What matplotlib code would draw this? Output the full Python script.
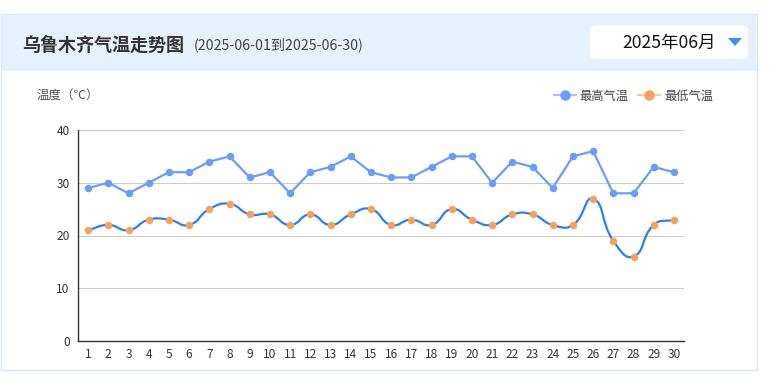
import numpy as np
import matplotlib
matplotlib.use("Agg")
import matplotlib.pyplot as plt
from matplotlib.patches import Rectangle, FancyBboxPatch, Polygon, PathPatch
from matplotlib.path import Path
from matplotlib.lines import Line2D

plt.rcParams['font.family'] = ['Noto Sans CJK SC', 'DejaVu Sans']

days = list(range(1, 31))
high_temps = [29, 30, 28, 30, 32, 32, 34, 35, 31, 32, 28, 32, 33, 35, 32,
              31, 31, 33, 35, 35, 30, 34, 33, 29, 35, 36, 28, 28, 33, 32]
low_temps = [21, 22, 21, 23, 23, 22, 25, 26, 24, 24, 22, 24, 22, 24, 25,
             22, 23, 22, 25, 23, 22, 24, 24, 22, 22, 27, 19, 16, 22, 23]
y_ticks = [0, 10, 20, 30, 40]
title = "乌鲁木齐气温走势图"
subtitle = "(2025-06-01到2025-06-30)"
month_label = "2025年06月"
y_label = "温度（℃）"
series_names = ["最高气温", "最低气温"]

W, H = 772, 384
fig = plt.figure(figsize=(W / 100, H / 100), dpi=100)
fig.patch.set_facecolor("white")

def fx(px):
    return px / W

def fy(py):
    return 1 - py / H

# card border
fig.add_artist(Rectangle((fx(1), fy(370)), fx(756), (370 - 14) / H,
                         transform=fig.transFigure, facecolor="white",
                         edgecolor="#dbe7f7", lw=1, zorder=0))
# header band
fig.add_artist(Rectangle((fx(1.5), fy(71)), fx(755), (71 - 14.5) / H,
                         transform=fig.transFigure, facecolor="#e7f0fd",
                         edgecolor="none", zorder=1))
# dropdown
fig.add_artist(FancyBboxPatch((fx(590), fy(59)), fx(158), (59 - 25) / H,
                              boxstyle="round,pad=0,rounding_size=0.012",
                              transform=fig.transFigure, facecolor="white",
                              edgecolor="none", zorder=2))
fig.text(fx(22), fy(45), title, fontsize=13, fontweight="bold", color="#333333",
         va="center", ha="left", zorder=3)
fig.text(fx(194), fy(45), subtitle, fontsize=10.2, color="#444444",
         va="center", ha="left", zorder=3)
fig.text(fx(716), fy(43), month_label, fontsize=12.6, color="#111111",
         va="center", ha="right", zorder=3)
fig.add_artist(Polygon([(fx(728), fy(38)), (fx(742), fy(38)), (fx(735), fy(46))],
                       closed=True, transform=fig.transFigure,
                       facecolor="#3d8ef2", edgecolor="none", zorder=3))

fig.text(fx(37), fy(96), y_label, fontsize=9, color="#555555",
         va="center", ha="left")

ax = fig.add_axes([fx(78), fy(341), fx(684 - 78), (341 - 130) / H])
ax.set_xlim(0.5, 30.5)
ax.set_ylim(0, 40)
ax.set_yticks(y_ticks)
ax.set_xticks(days)
ax.tick_params(axis="both", length=0, labelsize=8.6, colors="#333333", pad=5)
ax.tick_params(axis="y", pad=6)
ax.grid(axis="y", color="#cccccc", lw=0.8)
ax.set_axisbelow(True)
for s in ["top", "right"]:
    ax.spines[s].set_visible(False)
for s in ["left", "bottom"]:
    ax.spines[s].set_color("#333333")
    ax.spines[s].set_linewidth(1)

high_line = "#6a9ef6"
low_line = "#2b7ff3"
low_marker = "#f5a35c"

ax.plot(days, high_temps, color=high_line, lw=1.6, marker="o", ms=4.4,
        markerfacecolor=high_line, markeredgecolor=high_line, zorder=3,
        clip_on=False)

# smooth (ECharts-like bezier) for low temps, computed in pixel-like space
sx, sy = 20.2, 5.27
px = np.array(days, float) * sx
py = np.array(low_temps, float) * sy
n = len(px)
smooth = 0.5
verts = [(px[0], py[0])]
codes = [Path.MOVETO]
cps = []
for i in range(n):
    p1 = np.array([px[i], py[i]])
    p0 = np.array([px[i - 1], py[i - 1]]) if i > 0 else p1
    p2 = np.array([px[i + 1], py[i + 1]]) if i < n - 1 else p1
    v = p2 - p0
    d0 = np.hypot(*(p1 - p0))
    d1 = np.hypot(*(p2 - p1))
    tot = d0 + d1
    if tot == 0:
        cps.append((p1, p1))
        continue
    c_in = p1 - v * smooth * d0 / tot
    c_out = p1 + v * smooth * d1 / tot
    cps.append((c_in, c_out))
for i in range(n - 1):
    c1 = cps[i][1]
    c2 = cps[i + 1][0]
    verts += [tuple(c1), tuple(c2), (px[i + 1], py[i + 1])]
    codes += [Path.CURVE4] * 3
verts = np.array(verts)
verts[:, 0] /= sx
verts[:, 1] /= sy
ax.add_patch(PathPatch(Path(verts, codes), facecolor="none",
                       edgecolor=low_line, lw=1.6, zorder=3))
ax.plot(days, low_temps, linestyle="none", marker="o", ms=4.4,
        markerfacecolor=low_marker, markeredgecolor=low_marker, zorder=4,
        clip_on=False)

handles = [
    Line2D([], [], color="#a9c6f8", lw=1.6, marker="o", ms=6.5,
           markerfacecolor=high_line, markeredgecolor=high_line),
    Line2D([], [], color="#f8caa0", lw=1.6, marker="o", ms=6.5,
           markerfacecolor=low_marker, markeredgecolor=low_marker),
]
fig.legend(handles, series_names, loc="center right",
           bbox_to_anchor=(fx(724), fy(96)), ncol=2, frameon=False,
           fontsize=8.8, handlelength=1.8, handletextpad=0.3, columnspacing=0.8,
           labelcolor="#444444")

fig.savefig("out.png", dpi=100, facecolor="white")
